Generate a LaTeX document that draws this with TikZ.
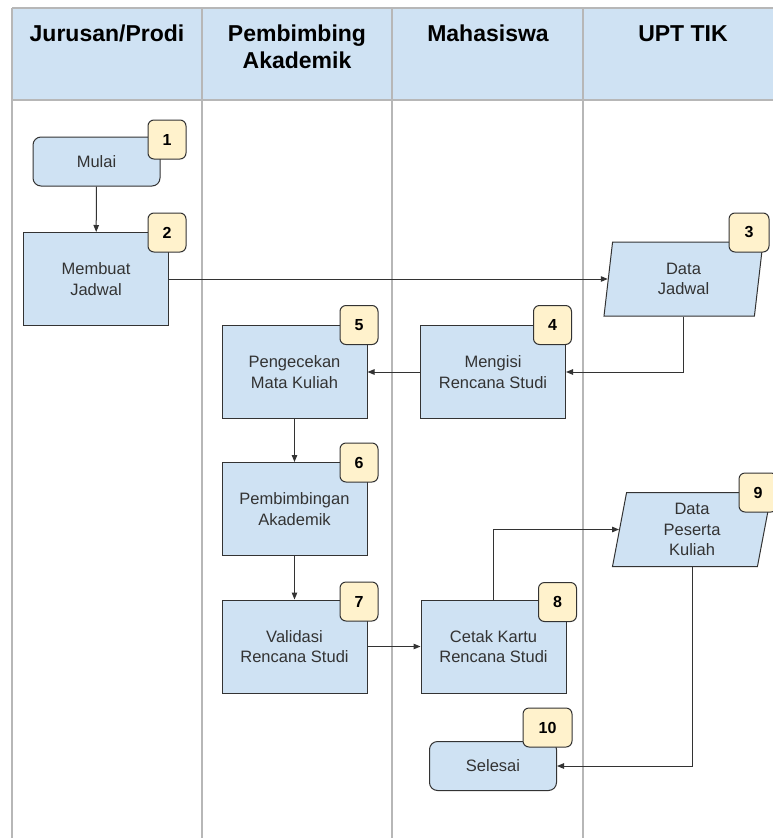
\documentclass[tikz,border=0pt]{standalone}
\usepackage{fontspec}
\setmainfont{Liberation Sans}
\usetikzlibrary{arrows.meta,shapes.geometric}
\definecolor{laneblue}{HTML}{CFE2F3}
\definecolor{badgeyellow}{HTML}{FFF2CC}
\definecolor{lanegray}{HTML}{B7B7B7}
\definecolor{ink}{HTML}{333333}

\begin{document}
\begin{tikzpicture}[
    x=1pt, y=-1pt,
    lane/.style={draw=lanegray, line width=1.1pt},
    head/.style={anchor=north, inner sep=0pt, align=center, font=\fontsize{23}{27}\selectfont\bfseries},
    proc/.style={rectangle, draw=ink, fill=laneblue, line width=1pt, minimum width=145pt, minimum height=93pt,
        inner sep=0pt, align=center, text=ink, font=\fontsize{16.5}{20.5}\selectfont},
    term/.style={proc, rounded corners=8pt, minimum width=127pt, minimum height=49pt},
    data/.style={proc, trapezium, trapezium left angle=75, trapezium right angle=105, trapezium stretches body,
        minimum width=159pt, minimum height=74pt},
    badge/.style={rectangle, rounded corners=6pt, draw=ink, fill=badgeyellow, line width=1pt, minimum width=38pt,
        minimum height=39pt, inner sep=0pt, font=\fontsize{16}{19}\selectfont\bfseries},
    edge/.style={draw=ink, line width=1pt, -{Triangle[length=7pt,width=5.5pt]}}
]
    \useasboundingbox (0,0) rectangle (773,838);

    % lanes
    \fill[laneblue] (12,8) rectangle (790,100);
    \draw[lane] (12,8) -- (790,8);
    \draw[lane] (12,100) -- (790,100);
    \foreach \x in {12,202,392,583}
        \draw[lane] (\x,8) -- (\x,845);

    \node[head] (h1) at (107,25) {Jurusan/Prodi};
    \node[head] (h2) at (297,25) {Pembimbing\\Akademik};
    \node[head] (h3) at (488,25) {Mahasiswa};
    \node[head] (h4) at (683,25) {UPT TIK};

    % steps
    \node[term] (ml) at (96.5,161.5) {Mulai};
    \node[proc] (mj) at (96,279) {Membuat\\Jadwal};
    \node[data] (dj) at (683.5,279) {Data\\Jadwal};
    \node[proc] (mr) at (493,372) {Mengisi\\Rencana Studi};
    \node[proc] (pk) at (294.5,372) {Pengecekan\\Mata Kuliah};
    \node[proc] (pa) at (294.5,509) {Pembimbingan\\Akademik};
    \node[proc] (vr) at (294.5,646.5) {Validasi\\Rencana Studi};
    \node[proc] (ck) at (493.5,646.5) {Cetak Kartu\\Rencana Studi};
    \node[data] (dp) at (692,529.5) {Data\\Peserta\\Kuliah};
    \node[term] (sl) at (493,766) {Selesai};

    % numbers
    \node[badge] (n1) at (167,139.5) {1};
    \node[badge] (n2) at (167,232.5) {2};
    \node[badge, minimum width=40pt] (n3) at (749,232.5) {3};
    \node[badge] (n4) at (552.5,325) {4};
    \node[badge] (n5) at (359,325) {5};
    \node[badge] (n6) at (359,462.5) {6};
    \node[badge] (n7) at (359,601.5) {7};
    \node[badge] (n8) at (557.5,602) {8};
    \node[badge] (n9) at (758,492.5) {9};
    \node[badge, minimum width=49pt] (n10) at (547.5,727.5) {10};

    \draw[edge] (ml) -- (mj);
    \draw[edge] (mj.east) -- (dj.left side);
    \draw[edge] (dj.south) |- (mr.east);
    \draw[edge] (mr) -- (pk);
    \draw[edge] (pk) -- (pa);
    \draw[edge] (pa) -- (vr);
    \draw[edge] (vr) -- (ck);
    \draw[edge] (ck.north) |- (dp.left side);
    \draw[edge] (dp.south) |- (sl.east);
\end{tikzpicture}
\end{document}
